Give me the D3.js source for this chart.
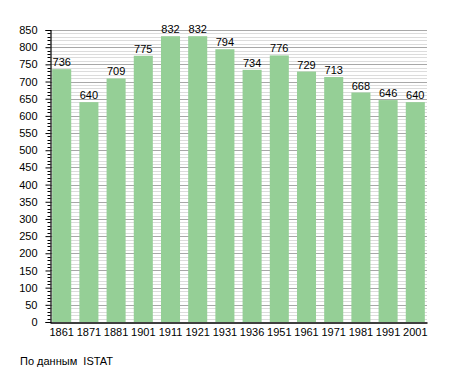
<!DOCTYPE html>
<html>
<head>
<meta charset="utf-8">
<script src="https://cdn.jsdelivr.net/npm/d3@7"></script>
<style>
  body { margin: 0; background: #fff; }
  svg text { font-family: "Liberation Sans", Arial, sans-serif; fill: #000; }
</style>
</head>
<body>
<div class="chart"></div>
<script>
// data
var years = ["1861", "1871", "1881", "1901", "1911", "1921", "1931", "1936", "1951", "1961", "1971", "1981", "1991", "2001"];
var population = [736, 640, 709, 775, 832, 832, 794, 734, 776, 729, 713, 668, 646, 640];
var yTicks = [0, 50, 100, 150, 200, 250, 300, 350, 400, 450, 500, 550, 600, 650, 700, 750, 800, 850];
var source = "По данным  ISTAT";

var width = 455, height = 373;

var svg = d3.select(".chart")
    .append("svg")
    .attr("width", width)
    .attr("height", height);

var x = d3.scaleBand()
    .domain(years)
    .range([50, 427])
    .paddingInner(0.3)
    .paddingOuter(0.08);

var y = d3.scaleLinear()
    .domain([0, 850])
    .range([322, 30]);

// minor gridlines every 10
svg.append("g")
    .selectAll("line")
    .data(d3.range(10, 851, 10).filter(function(d) { return d % 50 !== 0; }))
    .enter().append("line")
    .attr("x1", 50).attr("x2", 427)
    .attr("y1", function(d) { return Math.round(y(d)) + 0.5; })
    .attr("y2", function(d) { return Math.round(y(d)) + 0.5; })
    .attr("stroke", "#dcdcdc")
    .attr("stroke-width", 1);

// major gridlines every 50
svg.append("g")
    .selectAll("line")
    .data(yTicks.slice(1))
    .enter().append("line")
    .attr("x1", 50).attr("x2", 427)
    .attr("y1", function(d) { return Math.round(y(d)) + 0.5; })
    .attr("y2", function(d) { return Math.round(y(d)) + 0.5; })
    .attr("stroke", "#a8a8a8")
    .attr("stroke-width", 1);

// bars
svg.selectAll(".bar")
    .data(population)
    .enter().append("rect")
    .attr("class", "bar")
    .attr("x", function(d, i) { return x(years[i]); })
    .attr("y", function(d) { return y(d); })
    .attr("width", x.bandwidth())
    .attr("height", function(d) { return y(0) - y(d); })
    .attr("fill", "#95cf96");

// value labels
svg.selectAll(".val")
    .data(population)
    .enter().append("text")
    .attr("class", "val")
    .attr("x", function(d, i) { return x(years[i]) + x.bandwidth() / 2; })
    .attr("y", function(d) { return y(d) - 3; })
    .attr("text-anchor", "middle")
    .style("font-size", "11px")
    .text(function(d) { return d; });

// y axis
var yAxis = d3.axisLeft(y)
    .tickValues(yTicks)
    .tickSize(5)
    .tickPadding(8);

var gy = svg.append("g")
    .attr("transform", "translate(50.5,0)")
    .call(yAxis);
gy.select(".domain").attr("stroke", "#000").attr("stroke-width", 1.2);
gy.selectAll(".tick text").style("font-size", "11px");

// minor ticks on the y axis
svg.append("g")
    .selectAll("line")
    .data(d3.range(10, 851, 10).filter(function(d) { return d % 50 !== 0; }))
    .enter().append("line")
    .attr("x1", 47.5).attr("x2", 50.5)
    .attr("y1", function(d) { return Math.round(y(d)) + 0.5; })
    .attr("y2", function(d) { return Math.round(y(d)) + 0.5; })
    .attr("stroke", "#000");

// x axis
var xAxis = d3.axisBottom(x).tickSize(0).tickPadding(6);
var gx = svg.append("g")
    .attr("transform", "translate(0," + (y(0) + 0.5) + ")")
    .call(xAxis);
gx.select(".domain").attr("stroke", "#000").attr("stroke-width", 1.5);
gx.selectAll(".tick text").style("font-size", "11px");

// source note
svg.append("text")
    .attr("x", 20)
    .attr("y", 365)
    .style("font-size", "11px")
    .style("white-space", "pre")
    .attr("xml:space", "preserve")
    .text(source);
</script>
</body>
</html>
